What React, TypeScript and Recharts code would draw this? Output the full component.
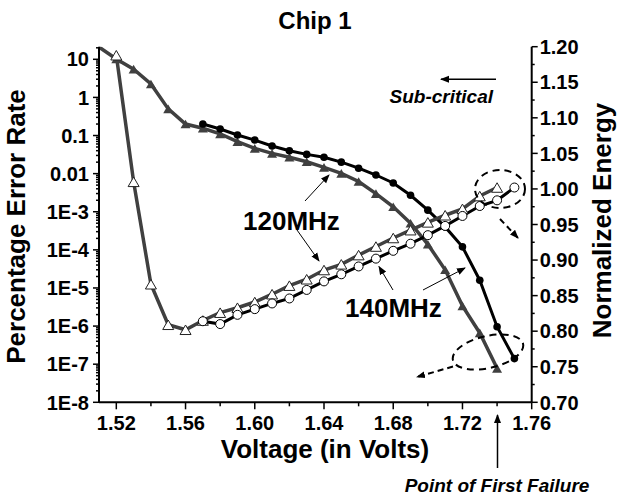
import { ComposedChart, Line, XAxis, YAxis } from "recharts"

const FONT = "'Liberation Sans', Arial, Helvetica, sans-serif"
const GREY = "#404040"

// error rate (%) at 120MHz, filled triangles, left axis
const voltage120 = [1.51, 1.52, 1.53, 1.54, 1.55, 1.56, 1.57, 1.58, 1.59, 1.6, 1.61, 1.62, 1.63, 1.64, 1.65, 1.66, 1.67, 1.68, 1.69, 1.7, 1.71, 1.72, 1.73, 1.74]
const errorRate120 = [21, 10.2, 5.5, 2.25, 0.5, 0.2, 0.155, 0.11, 0.069, 0.046, 0.034, 0.027, 0.0205, 0.0146, 0.0102, 0.0062, 0.003, 0.00135, 5e-4, 1.4e-4, 3e-5, 3.4e-6, 6.6e-7, 7.8e-8]

// normalized energy at 120MHz, open triangles, right axis
const energyVoltage120 = [1.52, 1.53, 1.54, 1.55, 1.56, 1.57, 1.58, 1.59, 1.6, 1.61, 1.62, 1.63, 1.64, 1.65, 1.66, 1.67, 1.68, 1.69, 1.7, 1.71, 1.72, 1.73, 1.74]
const energy120 = [1.188, 1.01, 0.866, 0.809, 0.802, 0.815, 0.826, 0.833, 0.841, 0.852, 0.864, 0.873, 0.886, 0.894, 0.907, 0.919, 0.931, 0.942, 0.953, 0.963, 0.972, 0.99, 1.002]

// 140MHz: error rate (filled circles) and energy (open circles)
const voltage140 = [1.57, 1.58, 1.59, 1.6, 1.61, 1.62, 1.63, 1.64, 1.65, 1.66, 1.67, 1.68, 1.69, 1.7, 1.71, 1.72, 1.73, 1.74, 1.75]
const errorRate140 = [0.2, 0.148, 0.103, 0.076, 0.053, 0.04, 0.032, 0.027, 0.02, 0.0139, 0.0092, 0.0057, 0.0027, 0.0011, 4e-4, 1.2e-4, 1.6e-5, 9.6e-7, 1.4e-7]
const energy140 = [0.814, 0.81, 0.823, 0.831, 0.839, 0.846, 0.858, 0.87, 0.88, 0.891, 0.902, 0.913, 0.923, 0.935, 0.948, 0.962, 0.976, 0.984, 1.002]

// axes
const xTicks = [1.52, 1.54, 1.56, 1.58, 1.6, 1.62, 1.64, 1.66, 1.68, 1.7, 1.72, 1.74, 1.76]
const xMajor = [1.52, 1.56, 1.6, 1.64, 1.68, 1.72, 1.76]
const topTicks = [1.52, 1.54, 1.56, 1.58, 1.6, 1.62, 1.64, 1.66, 1.68, 1.7, 1.72, 1.74]
const leftMajor = [1e-8, 1e-7, 1e-6, 1e-5, 1e-4, 1e-3, 0.01, 0.1, 1, 10]
const leftLabels = ["1E-8", "1E-7", "1E-6", "1E-5", "1E-4", "1E-3", "0.01", "0.1", "1", "10"]
const rightTicks = [0.7, 0.725, 0.75, 0.775, 0.8, 0.825, 0.85, 0.875, 0.9, 0.925, 0.95, 0.975, 1.0, 1.025, 1.05, 1.075, 1.1, 1.125, 1.15, 1.175, 1.2]

const leftTop = 21.4
const leftMinor = leftMajor.flatMap((d) => [2, 3, 4, 5, 6, 7, 8, 9].map((m) => m * d)).filter((v) => v < leftTop)
const leftTicks = [...leftMajor, ...leftMinor]

const err120Data = voltage120.map((v, i) => ({ v, y: errorRate120[i] }))
const en120Data = energyVoltage120.map((v, i) => ({ v, y: energy120[i] }))
const err140Data = voltage140.map((v, i) => ({ v, y: errorRate140[i] }))
const en140Data = voltage140.map((v, i) => ({ v, y: energy140[i] }))

const labelStyle = { fontFamily: FONT, fontWeight: 700, fontSize: 20, fill: "#000" }

function LeftTick(props: any) {
  const { x, y, payload } = props
  const i = leftMajor.indexOf(payload.value)
  return (
    <g>
      <line x1={x - (i >= 0 ? 6 : 3)} y1={y} x2={x} y2={y} stroke="#000" strokeWidth={1.5} />
      {i >= 0 && (
        <text x={x - 10} y={y} dy="0.36em" textAnchor="end" style={labelStyle}>
          {leftLabels[i]}
        </text>
      )}
    </g>
  )
}

function RightTick(props: any) {
  const { x, y, payload } = props
  const major = Math.round(payload.value * 1000) % 50 === 0
  return (
    <g>
      <line x1={x} y1={y} x2={x + (major ? 6 : 3)} y2={y} stroke="#000" strokeWidth={1.5} />
      {major && (
        <text x={x + 8} y={y} dy="0.36em" textAnchor="start" style={labelStyle}>
          {payload.value.toFixed(2)}
        </text>
      )}
    </g>
  )
}

function BottomTick(props: any) {
  const { x, y, payload } = props
  const major = xMajor.includes(payload.value)
  return (
    <g>
      <line x1={x} y1={y} x2={x} y2={y + (major ? 7 : 4)} stroke="#000" strokeWidth={1.5} />
      {major && (
        <text x={x} y={y + 28} textAnchor="middle" style={labelStyle}>
          {payload.value.toFixed(2)}
        </text>
      )}
    </g>
  )
}

function TopTick(props: any) {
  const { x, y } = props
  return <line x1={x} y1={y} x2={x} y2={y + 6} stroke="#000" strokeWidth={1.5} />
}

const triangle = (cx: number, cy: number, s: number) => {
  const h = s * 0.866
  return `${cx},${cy - h / 2} ${cx - s / 2},${cy + h / 2} ${cx + s / 2},${cy + h / 2}`
}

const FilledTriangle = (p: any) =>
  p.index === 0 ? <g key={p.index} /> : <polygon key={p.index} points={triangle(p.cx, p.cy, 10)} fill={GREY} />
const OpenTriangle = (p: any) => (
  <polygon key={p.index} points={triangle(p.cx, p.cy, 11)} fill="#fff" stroke="#222" strokeWidth={1} />
)
const FilledCircle = (p: any) => <circle key={p.index} cx={p.cx} cy={p.cy} r={3.8} fill="#000" />
const OpenCircle = (p: any) => <circle key={p.index} cx={p.cx} cy={p.cy} r={4.5} fill="#fff" stroke="#000" strokeWidth={1} />

const bold = (size: number, italic = false) => ({
  fontFamily: FONT,
  fontWeight: 700,
  fontSize: size,
  fontStyle: italic ? "italic" : "normal",
  fill: "#000",
})

function Annotations() {
  return (
    <svg width={618} height={496} style={{ position: "absolute", left: 0, top: 0, pointerEvents: "none" }}>
      <defs>
        <marker id="ah" markerWidth="9" markerHeight="8" refX="8" refY="4" orient="auto" markerUnits="userSpaceOnUse">
          <path d="M0,0.5 L9,4 L0,7.5 z" fill="#000" />
        </marker>
      </defs>
      <text x={315} y={28.5} textAnchor="middle" style={bold(24)}>Chip 1</text>
      <text x={325} y={458} textAnchor="middle" style={bold(26)}>Voltage (in Volts)</text>
      <text transform="translate(25,226.5) rotate(-90)" textAnchor="middle" style={bold(26)}>Percentage Error Rate</text>
      <text transform="translate(611,220.5) rotate(-90)" textAnchor="middle" style={bold(26)}>Normalized Energy</text>

      <line x1={496} y1={79.3} x2={441} y2={79.3} stroke="#000" strokeWidth={1.5} markerEnd="url(#ah)" />
      <text x={493} y={103} textAnchor="end" style={bold(19, true)}>Sub-critical</text>

      <text x={243} y={230} style={bold(26)}>120MHz</text>
      <line x1={305} y1={201} x2={329} y2={175} stroke="#000" strokeWidth={1} markerEnd="url(#ah)" />
      <line x1={297} y1={230} x2={319} y2={261} stroke="#000" strokeWidth={1} markerEnd="url(#ah)" />

      <text x={345} y={317} style={bold(26)}>140MHz</text>
      <line x1={423} y1={290} x2={465} y2={268} stroke="#000" strokeWidth={1} markerEnd="url(#ah)" />
      <line x1={393} y1={290} x2={379} y2={266.5} stroke="#000" strokeWidth={1} markerEnd="url(#ah)" />

      <ellipse cx={500} cy={189} rx={25} ry={19} fill="none" stroke="#000" strokeWidth={2} strokeDasharray="7 5" />
      <line x1={500} y1={219} x2={518} y2={238} stroke="#000" strokeWidth={2} strokeDasharray="6 4" markerEnd="url(#ah)" />

      <ellipse cx={488} cy={352} rx={36} ry={16} transform="rotate(-13 488 352)" fill="none" stroke="#000" strokeWidth={2} strokeDasharray="7 5" />
      <line x1={453} y1={366.5} x2={417} y2={377} stroke="#000" strokeWidth={2} strokeDasharray="6 4" markerEnd="url(#ah)" />

      <line x1={497.5} y1={468} x2={497.5} y2={415} stroke="#000" strokeWidth={1.5} markerEnd="url(#ah)" />
      <text x={497} y={492} textAnchor="middle" style={bold(19, true)}>Point of First Failure</text>
    </svg>
  )
}

export default function App() {
  return (
    <div style={{ position: "absolute", left: 0, top: 0, width: 618, height: 496, background: "#fff" }}>
      <ComposedChart width={618} height={496} margin={{ top: 46.7, right: 0, bottom: 0, left: 0 }}>
        <XAxis
          dataKey="v"
          type="number"
          domain={[1.51, 1.76]}
          allowDataOverflow
          ticks={xTicks}
          interval={0}
          height={93.7}
          tickSize={0}
          tickMargin={0}
          tickLine={false}
          tick={<BottomTick />}
          axisLine={{ stroke: "#000", strokeWidth: 2 }}
        />
        <XAxis
          xAxisId="top"
          orientation="top"
          dataKey="v"
          type="number"
          domain={[1.51, 1.76]}
          allowDataOverflow
          ticks={topTicks}
          interval={0}
          height={0}
          tickSize={0}
          tickMargin={0}
          tickLine={false}
          tick={<TopTick />}
          axisLine={{ stroke: "#000", strokeWidth: 2 }}
        />
        <YAxis
          yAxisId="left"
          scale="log"
          type="number"
          domain={[1e-8, leftTop]}
          allowDataOverflow
          ticks={leftTicks}
          interval={0}
          width={99}
          tickSize={0}
          tickMargin={0}
          tickLine={false}
          tick={<LeftTick />}
          axisLine={{ stroke: "#000", strokeWidth: 2 }}
        />
        <YAxis
          yAxisId="right"
          orientation="right"
          type="number"
          domain={[0.7, 1.2]}
          allowDataOverflow
          ticks={rightTicks}
          interval={0}
          width={86.3}
          tickSize={0}
          tickMargin={0}
          tickLine={false}
          tick={<RightTick />}
          axisLine={{ stroke: "#000", strokeWidth: 2 }}
        />
        <Line
          yAxisId="left"
          data={err120Data}
          dataKey="y"
          type="linear"
          stroke={GREY}
          strokeWidth={3.5}
          dot={FilledTriangle}
          activeDot={false}
          isAnimationActive={false}
        />
        <Line
          yAxisId="left"
          data={err140Data}
          dataKey="y"
          type="linear"
          stroke="#000"
          strokeWidth={3}
          dot={FilledCircle}
          activeDot={false}
          isAnimationActive={false}
        />
        <Line
          yAxisId="right"
          data={en120Data}
          dataKey="y"
          type="linear"
          stroke={GREY}
          strokeWidth={3.5}
          dot={OpenTriangle}
          activeDot={false}
          isAnimationActive={false}
        />
        <Line
          yAxisId="right"
          data={en140Data}
          dataKey="y"
          type="linear"
          stroke="#000"
          strokeWidth={3}
          dot={OpenCircle}
          activeDot={false}
          isAnimationActive={false}
        />
      </ComposedChart>
      <Annotations />
    </div>
  )
}
